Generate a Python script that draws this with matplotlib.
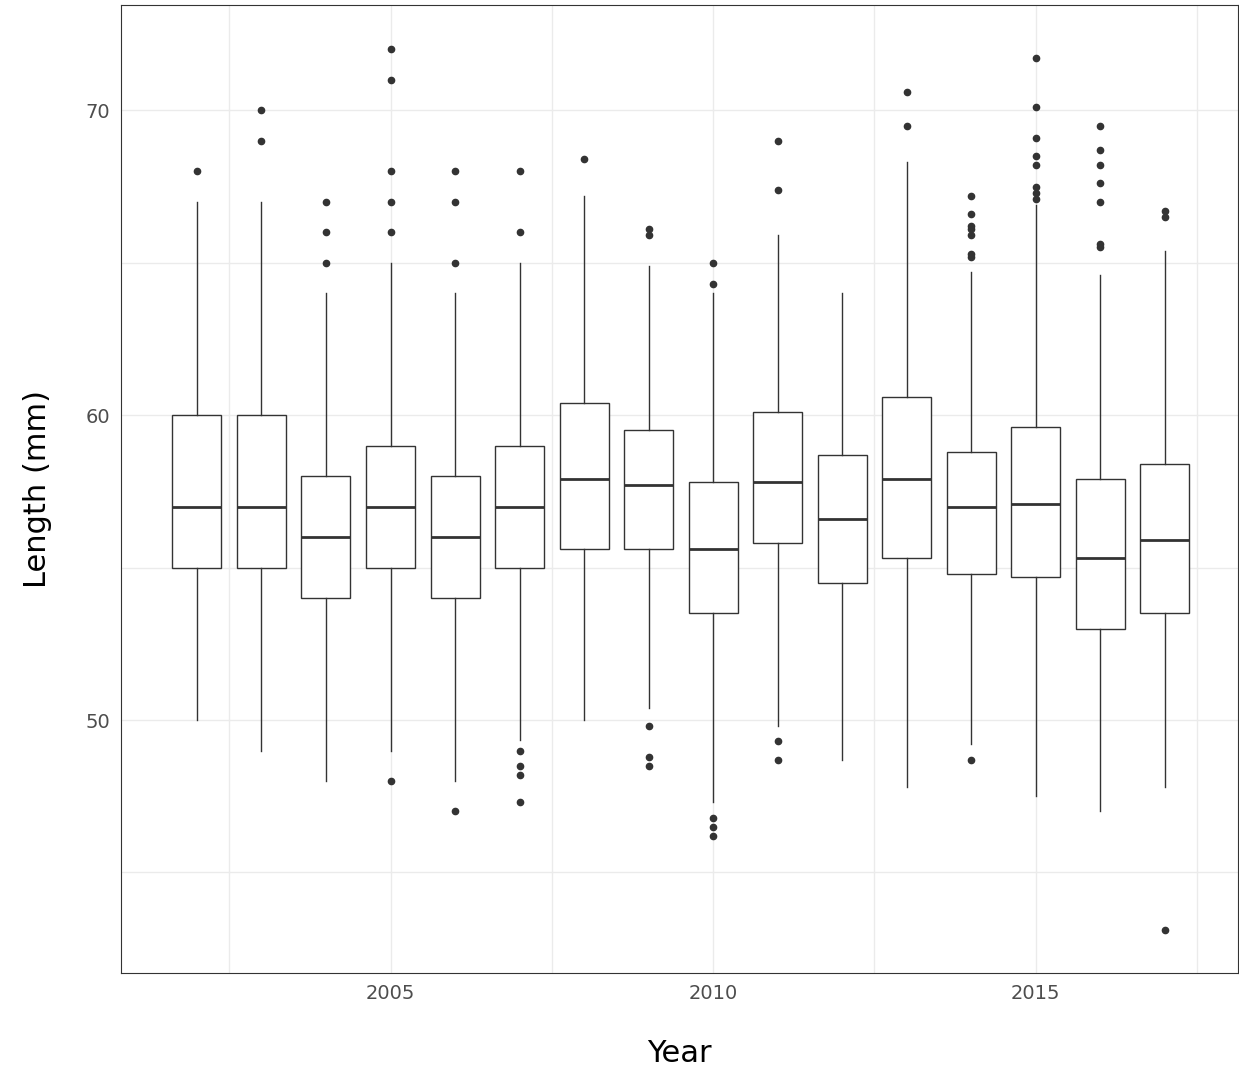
import matplotlib.pyplot as plt

years = list(range(2002, 2018))
whislo = [50, 49, 48, 49, 48, 49.35, 50, 50.4, 47.3, 49.8, 48.7, 47.8, 49.2, 47.5, 47.0, 47.8]
q1 = [55, 55, 54, 55, 54, 55, 55.6, 55.6, 53.5, 55.8, 54.5, 55.3, 54.8, 54.7, 53.0, 53.5]
med = [57, 57, 56, 57, 56, 57, 57.9, 57.7, 55.6, 57.8, 56.6, 57.9, 57.0, 57.1, 55.3, 55.9]
q3 = [60, 60, 58, 59, 58, 59, 60.4, 59.5, 57.8, 60.1, 58.7, 60.6, 58.8, 59.6, 57.9, 58.4]
whishi = [67, 67, 64, 65, 64, 65, 67.2, 64.9, 64.0, 65.9, 64, 68.3, 64.7, 66.9, 64.6, 65.4]
fliers = [
    [68],
    [69, 70],
    [65, 66, 67],
    [66, 67, 68, 71, 72, 48],
    [65, 67, 68, 47],
    [66, 68, 49, 48.5, 48.2, 47.3],
    [68.4],
    [66.1, 65.9, 49.8, 48.8, 48.5],
    [65, 64.3, 46.8, 46.5, 46.2],
    [67.4, 69, 49.3, 48.7],
    [],
    [69.5, 70.6],
    [65.2, 65.3, 65.9, 66.1, 66.2, 66.6, 67.2, 48.7],
    [67.1, 67.3, 67.5, 68.2, 68.5, 69.1, 70.1, 71.7],
    [65.5, 65.6, 67, 67.6, 68.2, 68.7, 69.5],
    [66.5, 66.7, 43.1],
]

stats = [dict(whislo=whislo[i], q1=q1[i], med=med[i], q3=q3[i], whishi=whishi[i], fliers=fliers[i])
         for i in range(len(years))]

fig, ax = plt.subplots(figsize=(12.39, 10.86), dpi=100)
fig.subplots_adjust(left=0.098, right=0.999, top=0.995, bottom=0.104)
c = '#333333'
ax.bxp(stats, positions=years, widths=0.76, showcaps=False, patch_artist=True,
       boxprops=dict(facecolor='white', edgecolor=c, linewidth=1),
       medianprops=dict(color=c, linewidth=2),
       whiskerprops=dict(color=c, linewidth=1),
       flierprops=dict(marker='o', markerfacecolor=c, markeredgecolor=c, markersize=4.5))
ax.set_xlim(2000.83, 2018.13)
ax.set_ylim(41.7, 73.44)
ax.set_xticks([2005, 2010, 2015])
ax.set_xticklabels(['2005', '2010', '2015'])
ax.set_yticks([50, 60, 70])
ax.set_yticks([45, 55, 65], minor=True)
ax.set_xticks([2002.5, 2007.5, 2012.5, 2017.5], minor=True)
ax.grid(True, which='both', color='#ebebeb', linewidth=1)
ax.set_axisbelow(True)
ax.tick_params(which='both', length=0)
ax.tick_params(labelsize=14, labelcolor='#4d4d4d', pad=8)
for s in ax.spines.values():
    s.set_color(c)
ax.set_xlabel('Year', fontsize=22, labelpad=26)
ax.set_ylabel('Length (mm)', fontsize=22, labelpad=24)
fig.savefig('out.png')
